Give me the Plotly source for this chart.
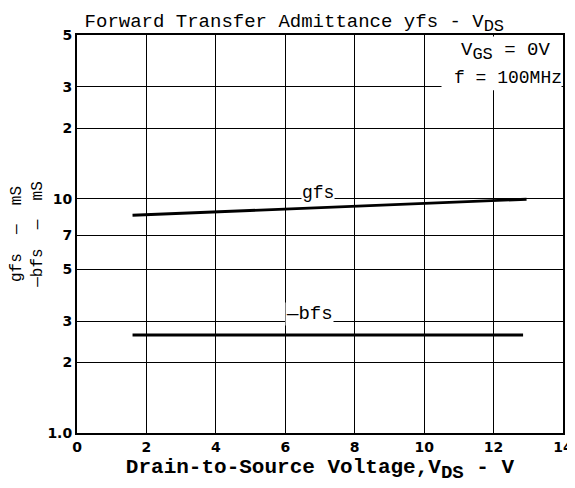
import math
import plotly.graph_objects as go

# Data
vds_gfs = [1.6, 12.95]
gfs = [8.5, 9.95]
vds_bfs = [1.6, 12.85]
bfs = [2.62, 2.62]

x_ticks = [0, 2, 4, 6, 8, 10, 12, 14]
y_ticks = [1, 2, 3, 5, 7, 10, 20, 30, 50]
y_tick_labels = ["1.0", "2", "3", "5", "7", "10", "2", "3", "5"]

mono = "Liberation Mono, DejaVu Sans Mono, monospace"
sans = "DejaVu Sans, Arial, sans-serif"

fig = go.Figure()
fig.add_trace(go.Scatter(x=vds_gfs, y=gfs, mode="lines",
                         line=dict(color="black", width=2.8), showlegend=False))
fig.add_trace(go.Scatter(x=vds_bfs, y=bfs, mode="lines",
                         line=dict(color="black", width=2.8), showlegend=False))

fig.update_layout(
    width=567, height=480,
    margin=dict(l=69, r=12, t=27, b=55),
    paper_bgcolor="white", plot_bgcolor="white",
    title=dict(text="Forward Transfer Admittance yfs - V<sub><span style='font-size:17px'>DS</span></sub>",
               x=0.505, xanchor="center", y=0.988, yanchor="top", automargin=False,
               font=dict(family=mono, size=19, color="black")),
    xaxis=dict(range=[0, 14], tickvals=x_ticks, ticktext=[str(v) for v in x_ticks],
               showgrid=True, gridcolor="black", gridwidth=1,
               showline=True, linecolor="black", linewidth=2, mirror=True,
               ticks="", zeroline=False, automargin=False,
               tickfont=dict(family=sans, size=14, color="black", weight="bold"),
               title=dict(text="Drain-to-Source Voltage,V<sub><span style='font-size:19px'>DS</span></sub> - V",
                          font=dict(family=mono, size=21, color="black", weight="bold"),
                          standoff=5)),
    yaxis=dict(type="log", range=[0, math.log10(50)], tickvals=y_ticks, ticktext=y_tick_labels,
               showgrid=True, gridcolor="black", gridwidth=1,
               showline=True, linecolor="black", linewidth=2, mirror=True,
               ticks="", zeroline=False, ticklabelstandoff=0, automargin=False,
               tickfont=dict(family=sans, size=14, color="black", weight="bold"),
               title=dict(text="gfs  —  mS<br>—bfs  —  mS",
                          font=dict(family=mono, size=16, color="black"))),
)

# white backing box behind the condition text (masks grid lines, like the reference)
fig.add_shape(type="rect", xref="paper", yref="paper", x0=0.75, x1=0.997, y0=0.861, y1=0.996,
              fillcolor="white", line=dict(width=0), layer="above")

fig.add_annotation(x=6.95, y=math.log10(10.0), text="gfs", showarrow=False, xanchor="center",
                   yanchor="bottom", font=dict(family=mono, size=18, color="black"),
                   bgcolor="white", borderpad=0, yshift=-5)
fig.add_annotation(x=6.7, y=math.log10(3.0), text="—bfs", showarrow=False, xanchor="center",
                   yanchor="bottom", font=dict(family=mono, size=19, color="black"),
                   bgcolor="white", borderpad=0, yshift=-5)
fig.add_annotation(x=1.0, xref="paper", xanchor="right", y=1.0, yref="paper", yanchor="top",
                   text="V<sub><span style='font-size:17px'>GS</span></sub> = 0V", showarrow=False,
                   font=dict(family=mono, size=19, color="black"),
                   borderpad=0, yshift=-3, xshift=-12)
fig.add_annotation(x=1.0, xref="paper", xanchor="right", y=1.0, yref="paper", yanchor="top",
                   text="f = 100MHz", showarrow=False,
                   font=dict(family=mono, size=18, color="black"),
                   borderpad=0, yshift=-32)

fig.write_html("out.html")
